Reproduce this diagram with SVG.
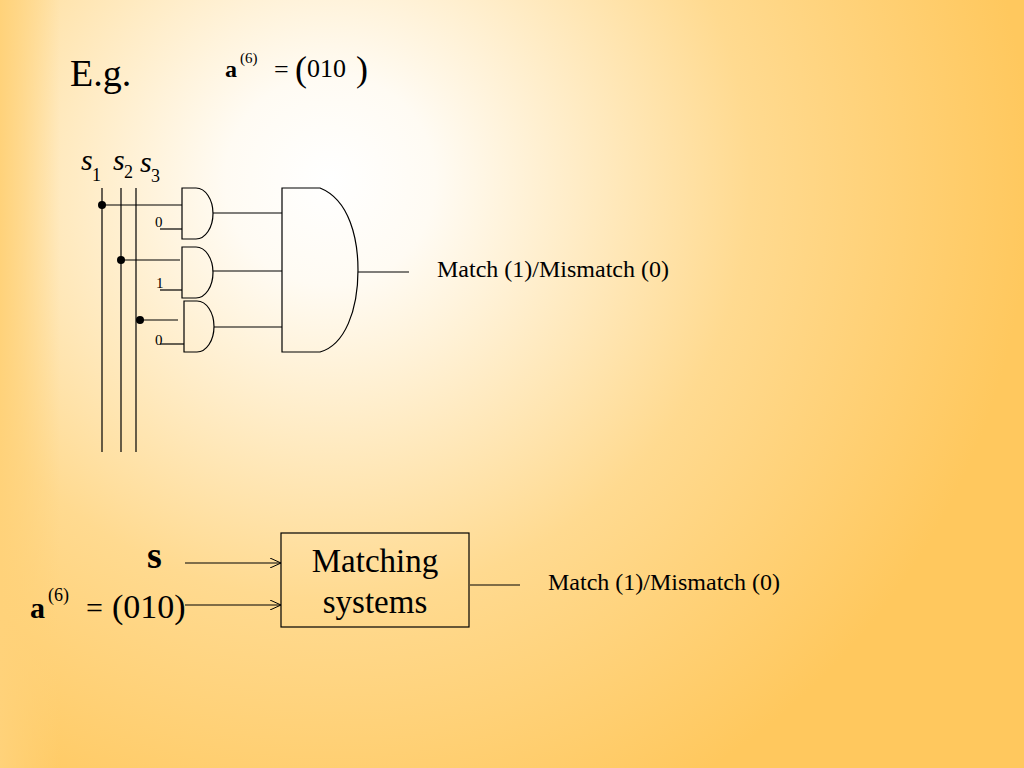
<svg xmlns="http://www.w3.org/2000/svg" width="1024" height="768" viewBox="0 0 1024 768">
<defs>
<radialGradient id="bg" cx="330" cy="180" r="700" gradientUnits="userSpaceOnUse">
<stop offset="0" stop-color="#FFFFFF"/><stop offset="0.15" stop-color="#FFFBF3"/><stop offset="0.6" stop-color="#FFDA90"/><stop offset="1" stop-color="#FFC85E"/>
</radialGradient>
<linearGradient id="lft" x1="0" x2="1"><stop offset="0" stop-color="#FFD27A"/><stop offset="1" stop-color="#FFD27A" stop-opacity="0"/></linearGradient>
<marker id="ar" markerWidth="12" markerHeight="10" refX="11" refY="5" orient="auto" markerUnits="userSpaceOnUse"><path d="M0,0 L11,5 L0,10" fill="none" stroke="#000"/></marker>
<style>
.k{stroke:#000;stroke-width:1.2;fill:none}
text{font-family:'Liberation Serif','DejaVu Serif',serif;fill:#000}
.i{font-style:italic}
</style>
</defs>
<rect width="1024" height="768" fill="url(#bg)"/>
<rect x="0" y="0" width="60" height="768" fill="url(#lft)"/>
<text x="70" y="86" font-size="38">E.g.</text>
<text x="225" y="77" font-size="24" font-weight="bold">a</text>
<text x="240" y="63" font-size="15">(6)</text>
<text x="274" y="78" font-size="26">=</text>
<text x="295" y="81" font-size="36">(</text>
<text x="307" y="77" font-size="26">010</text>
<text x="356" y="81" font-size="36">)</text>
<g id="labels-s">
<text x="81" y="170" font-size="30" class="i">s</text><text x="92" y="181" font-size="18">1</text>
<text x="113" y="170" font-size="30" class="i">s</text><text x="124" y="178" font-size="18">2</text>
<text x="140" y="172" font-size="30" class="i">s</text><text x="151" y="182" font-size="18">3</text>
</g>
<g id="connectors" class="k">
<line x1="102" y1="188" x2="102" y2="452"/><line x1="121" y1="188" x2="121" y2="452"/><line x1="136" y1="188" x2="136" y2="452"/>
<line x1="102" y1="205" x2="182" y2="205"/><line x1="160" y1="229" x2="182" y2="229"/>
<line x1="121" y1="260" x2="180" y2="260"/><line x1="160" y1="290" x2="182" y2="290"/>
<line x1="140" y1="320" x2="178" y2="320"/><line x1="160" y1="344" x2="184" y2="344"/>
<line x1="213" y1="213" x2="282" y2="213"/><line x1="213" y1="271" x2="282" y2="271"/><line x1="214" y1="327" x2="282" y2="327"/>
<line x1="358" y1="272" x2="409" y2="272"/>
<line x1="185" y1="563" x2="281" y2="563" marker-end="url(#ar)"/>
<line x1="185" y1="605" x2="281" y2="605" marker-end="url(#ar)"/>
<line x1="470" y1="585" x2="520" y2="585"/>
</g>
<g id="dots"><circle cx="102" cy="205" r="4"/><circle cx="121" cy="260" r="4"/><circle cx="140" cy="320" r="4"/></g>
<g id="gate1"><path class="k" d="M182,188 H196 A17,25.5 0 0 1 196,239 H182 Z"/><text x="155" y="227" font-size="15">0</text></g>
<g id="gate2"><path class="k" d="M182,247 H196 A17,25.5 0 0 1 196,298 H182 Z"/><text x="156" y="288" font-size="15">1</text></g>
<g id="gate3"><path class="k" d="M184,301 H197 A17,25.5 0 0 1 197,352 H184 Z"/><text x="155" y="345" font-size="15">0</text></g>
<g id="gate-big"><path class="k" d="M282,188 H320 C350,200 358,240 358,270 C358,310 345,345 320,352 H282 Z"/></g>
<text x="437" y="277" font-size="24">Match (1)/Mismatch (0)</text>
<g id="inputs">
<text x="147" y="568" font-size="38" font-weight="bold">s</text>
<text x="30" y="618" font-size="30" font-weight="bold">a</text>
<text x="48" y="601" font-size="18">(6)</text>
<text x="86" y="618" font-size="30">=</text>
<text x="112" y="618" font-size="34">(010)</text>
</g>
<g id="matching"><rect class="k" x="281" y="533" width="188" height="94"/>
<text x="375" y="572" font-size="33" text-anchor="middle">Matching</text>
<text x="375" y="613" font-size="33" text-anchor="middle">systems</text></g>
<text x="548" y="590" font-size="24">Match (1)/Mismatch (0)</text>
</svg>
